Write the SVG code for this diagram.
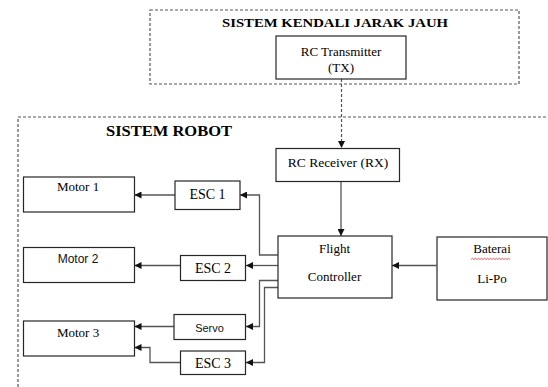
<svg xmlns="http://www.w3.org/2000/svg" width="548" height="387" viewBox="0 0 548 387">
<defs>
<style>
.bg{fill:#fff}
.box{fill:#fff;stroke:#262626;stroke-width:1.2}
.dash{fill:none;stroke:#555;stroke-width:1.2;stroke-dasharray:3 2}
.ln{fill:none;stroke:#555;stroke-width:1.3}
.serif{font-family:'Liberation Serif','DejaVu Serif',serif;fill:#000;text-anchor:middle}
.sans{font-family:'Liberation Sans','DejaVu Sans',sans-serif;fill:#111;text-anchor:middle}
.title{font-family:'Liberation Serif','DejaVu Serif',serif;font-weight:bold;fill:#000}
</style>
<marker id="ah" viewBox="0 0 10 10" refX="10" refY="5" markerWidth="7" markerHeight="7" markerUnits="userSpaceOnUse" orient="auto">
<path d="M0,0 L10,5 L0,10 z" fill="#111"/>
</marker>
</defs>
<rect class="bg" x="0" y="0" width="548" height="387"/>
<g id="group-remote">
<rect class="dash" x="150" y="10" width="369" height="74"/>
<text class="title" x="222" y="27" font-size="13.5" textLength="226" lengthAdjust="spacingAndGlyphs">SISTEM KENDALI JARAK JAUH</text>
</g>
<g id="group-robot">
<path class="dash" d="M18,387 L18,117 L548,117"/>
<text class="title" x="106" y="136" font-size="14.5" textLength="126" lengthAdjust="spacingAndGlyphs">SISTEM ROBOT</text>
</g>
<g id="connectors">
<path class="dash" d="M341.5,79 L341.5,148" marker-end="url(#ah)"/>
<path class="ln" d="M341,181.5 L341,236" marker-end="url(#ah)"/>
<path class="ln" d="M436.5,265.5 L392,265.5" marker-end="url(#ah)"/>
<path class="ln" d="M278,255 L259.5,255 L259.5,195 L240,195" marker-end="url(#ah)"/>
<path class="ln" d="M278,265.5 L246,265.5" marker-end="url(#ah)"/>
<path class="ln" d="M278,280.5 L259.5,280.5 L259.5,326.5 L246,326.5" marker-end="url(#ah)"/>
<path class="ln" d="M278,287.5 L264.5,287.5 L264.5,362.5 L246,362.5" marker-end="url(#ah)"/>
<path class="ln" d="M175,195 L134.5,195" marker-end="url(#ah)"/>
<path class="ln" d="M180.5,265.5 L134.5,265.5" marker-end="url(#ah)"/>
<path class="ln" d="M174,326.5 L134.5,326.5" marker-end="url(#ah)"/>
<path class="ln" d="M180.5,362.5 L150,362.5 L150,347.5 L134.5,347.5" marker-end="url(#ah)"/>
</g>
<g id="rc-transmitter">
<rect class="box" x="276" y="36" width="130" height="43"/>
<text class="serif" x="341" y="56" font-size="13">RC Transmitter</text>
<text class="serif" x="341" y="72" font-size="13">(TX)</text>
</g>
<g id="rc-receiver">
<rect class="box" x="276" y="148.5" width="123.5" height="33"/>
<text class="serif" x="338" y="166.5" font-size="13.5">RC Receiver (RX)</text>
</g>
<g id="flight-controller">
<rect class="box" x="278" y="236" width="114" height="62"/>
<text class="serif" x="334.5" y="253" font-size="13">Flight</text>
<text class="serif" x="334.5" y="281" font-size="13">Controller</text>
</g>
<g id="baterai">
<rect class="box" x="437" y="237" width="110" height="63"/>
<text class="serif" x="492" y="253" font-size="13">Baterai</text>
<path d="M471,259.5 l1.5,-1.2 l1.5,1.2 l1.5,-1.2 l1.5,1.2 l1.5,-1.2 l1.5,1.2 l1.5,-1.2 l1.5,1.2 l1.5,-1.2 l1.5,1.2 l1.5,-1.2 l1.5,1.2 l1.5,-1.2 l1.5,1.2 l1.5,-1.2 l1.5,1.2 l1.5,-1.2 l1.5,1.2 l1.5,-1.2 l1.5,1.2 l1.5,-1.2 l1.5,1.2 l1.5,-1.2 l1.5,1.2 l1.5,-1.2 l1.5,1.2" fill="none" stroke="#e03030" stroke-width="0.8"/>
<text class="serif" x="492" y="283" font-size="13">Li-Po</text>
</g>
<g id="esc1">
<rect class="box" x="175" y="181" width="65" height="28.5"/>
<text class="serif" x="207.5" y="199" font-size="14">ESC 1</text>
</g>
<g id="esc2">
<rect class="box" x="180.5" y="255.5" width="65" height="25"/>
<text class="serif" x="213" y="272.5" font-size="14">ESC 2</text>
</g>
<g id="servo">
<rect class="box" x="174" y="314.5" width="71.5" height="25"/>
<text class="sans" x="209.5" y="331.5" font-size="11">Servo</text>
</g>
<g id="esc3">
<rect class="box" x="180.5" y="351" width="65" height="23.5"/>
<text class="serif" x="213" y="367.5" font-size="14">ESC 3</text>
</g>
<g id="motor1">
<rect class="box" x="23.5" y="177" width="111" height="35"/>
<text class="serif" x="78" y="190.5" font-size="13">Motor 1</text>
</g>
<g id="motor2">
<rect class="box" x="23.5" y="247.5" width="111" height="35"/>
<text class="sans" x="78" y="263" font-size="12">Motor 2</text>
</g>
<g id="motor3">
<rect class="box" x="23.5" y="321" width="111" height="35"/>
<text class="serif" x="78" y="337" font-size="13">Motor 3</text>
</g>
</svg>
